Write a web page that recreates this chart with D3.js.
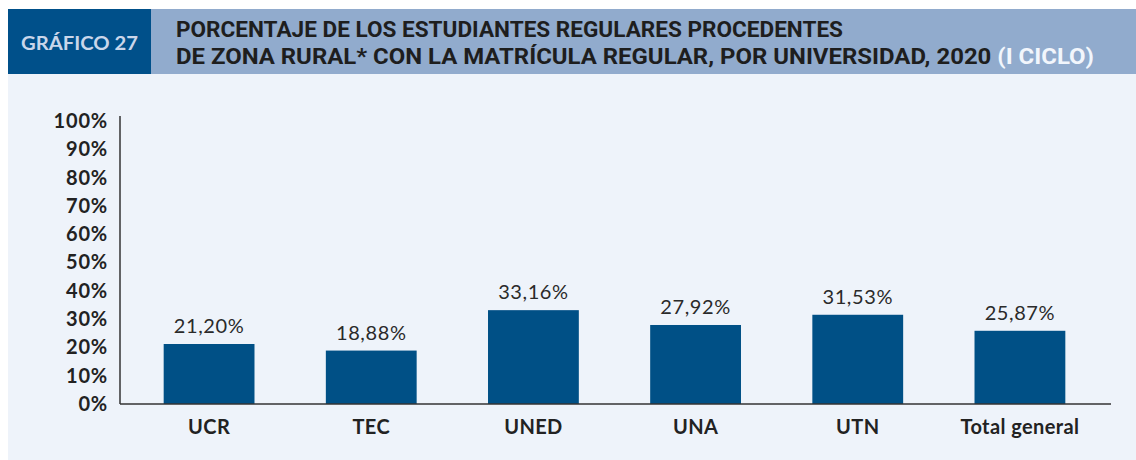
<!DOCTYPE html>
<html>
<head>
<meta charset="utf-8">
<script src="https://cdn.jsdelivr.net/npm/d3@7"></script>
<style>
  body { margin: 0; background: #fff; }
  svg { display: block; }
</style>
</head>
<body>
<svg id="chart" width="1136" height="460"></svg>
<script>
const universidades = ["UCR", "TEC", "UNED", "UNA", "UTN", "Total general"];
const porcentajes = [21.20, 18.88, 33.16, 27.92, 31.53, 25.87];
const yTicks = [0, 10, 20, 30, 40, 50, 60, 70, 80, 90, 100];
const tituloLinea1 = "PORCENTAJE DE LOS ESTUDIANTES REGULARES PROCEDENTES";
const tituloLinea2 = "DE ZONA RURAL*  CON LA MATRÍCULA REGULAR, POR UNIVERSIDAD, 2020 ";
const tituloCiclo = "(I CICLO)";

const svg = d3.select("#chart");
const font = "'Lato', 'Noto Sans', sans-serif";
const titleFont = "'Liberation Sans Narrow', 'Roboto', sans-serif";
const fmt = v => v.toFixed(2).replace(".", ",") + "%";

// Panel background + header
svg.append("rect").attr("x", 8).attr("y", 73).attr("width", 1128).attr("height", 387).attr("fill", "#eef3fa");
svg.append("rect").attr("x", 151).attr("y", 9).attr("width", 985).attr("height", 65).attr("fill", "#91abcd");
svg.append("rect").attr("x", 8).attr("y", 9).attr("width", 143).attr("height", 65).attr("fill", "#00508a");

svg.append("text")
    .attr("x", 21).attr("y", 50)
    .attr("font-family", font).attr("font-weight", "bold").attr("font-size", 19)
    .attr("fill", "#c9d6ea")
    .attr("textLength", 117).attr("lengthAdjust", "spacingAndGlyphs")
    .text("GRÁFICO 27");

svg.append("text")
    .attr("x", 176).attr("y", 37)
    .attr("font-family", titleFont).attr("font-weight", "bold").attr("font-size", 22)
    .attr("fill", "#1e1e1e")
    .attr("textLength", 667).attr("lengthAdjust", "spacingAndGlyphs")
    .text(tituloLinea1);

const t2 = svg.append("text")
    .attr("x", 176).attr("y", 64)
    .attr("font-family", titleFont).attr("font-weight", "bold").attr("font-size", 22)
    .attr("textLength", 918).attr("lengthAdjust", "spacingAndGlyphs");
t2.append("tspan").attr("fill", "#1e1e1e").text(tituloLinea2);
t2.append("tspan").attr("fill", "#f2f6fc").text(tituloCiclo);

// Scales
const x = d3.scaleBand()
    .domain(universidades)
    .range([128, 1101])
    .paddingInner(0.44)
    .paddingOuter(0.22);

const y = d3.scaleLinear()
    .domain([0, 100])
    .range([404, 121]);

// Bars
svg.append("g")
    .selectAll("rect")
    .data(universidades)
    .join("rect")
    .attr("x", d => x(d))
    .attr("width", x.bandwidth())
    .attr("y", (d, i) => y(porcentajes[i]))
    .attr("height", (d, i) => y(0) - y(porcentajes[i]))
    .attr("fill", "#005086");

// Value labels
svg.append("g")
    .selectAll("text")
    .data(universidades)
    .join("text")
    .attr("x", d => x(d) + x.bandwidth() / 2)
    .attr("y", (d, i) => y(porcentajes[i]) - 11)
    .attr("text-anchor", "middle")
    .attr("font-family", font).attr("font-size", 20)
    .attr("letter-spacing", 0.6)
    .attr("fill", "#2a2a2a")
    .text((d, i) => fmt(porcentajes[i]));

// Y axis
const yAxis = svg.append("g")
    .attr("transform", "translate(120,0)")
    .call(d3.axisLeft(y).tickValues(yTicks).tickFormat(d => d + "%").tickSize(0).tickPadding(12));
yAxis.select(".domain").attr("d", "M0,116V404").attr("stroke", "#333").attr("stroke-width", 1.5);
yAxis.selectAll("text")
    .attr("font-family", font).attr("font-weight", "bold").attr("font-size", 20)
    .attr("letter-spacing", 0.8)
    .attr("fill", "#222");

// X axis
const xAxis = svg.append("g")
    .attr("transform", "translate(0,404)")
    .call(d3.axisBottom(x).tickSize(0).tickPadding(16));
xAxis.select(".domain").attr("d", "M120,0H1111").attr("stroke", "#333").attr("stroke-width", 1.5);
xAxis.selectAll("text")
    .attr("font-family", font).attr("font-weight", "bold").attr("font-size", 20)
    .attr("letter-spacing", 0.4)
    .attr("fill", "#222");
</script>
</body>
</html>
